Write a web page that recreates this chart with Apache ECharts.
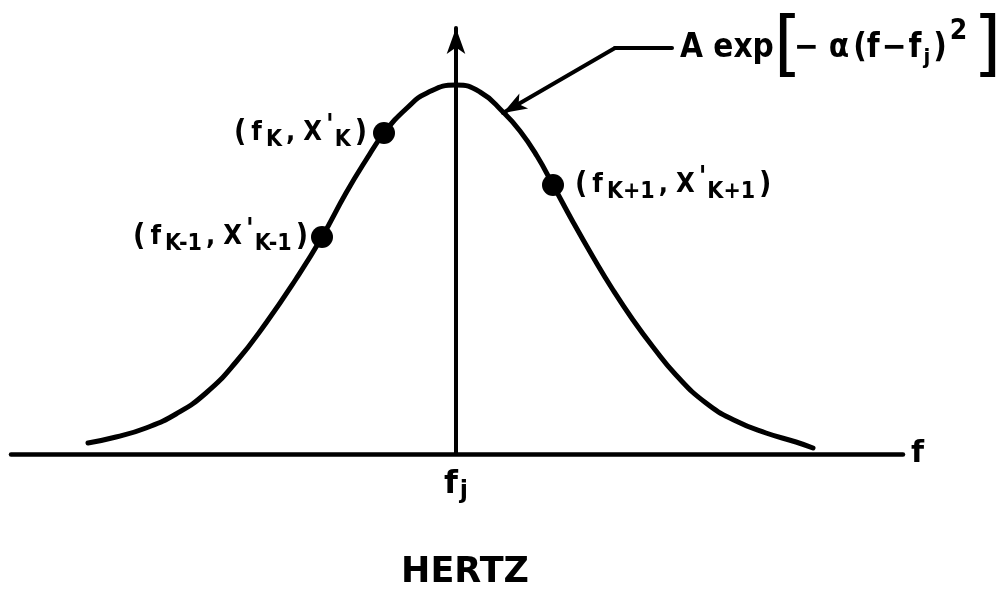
<!DOCTYPE html>
<html>
<head>
<meta charset="utf-8">
<script src="https://cdn.jsdelivr.net/npm/echarts@6/dist/echarts.min.js"></script>
<style>
  html, body { margin: 0; padding: 0; background: #fff; }
  #chart { width: 1002px; height: 589px; }
</style>
</head>
<body>
<div id="chart"></div>
<script>
// Frequency offset from f_j (horizontal) and amplitude (vertical) along the hand-drawn Gaussian
const curveF = [-368, -340, -310, -280, -250, -220, -190, -160, -134, -110, -90, -72, -49, -29, 0,
                24, 47, 64, 81, 97, 117, 137, 157, 177, 197, 220, 250, 280, 310, 340, 357];
const curveX = [11, 17, 26, 40, 61, 92, 131, 175, 217, 261, 294, 321, 346, 361, 369,
                362, 342, 323, 298, 269, 232, 197, 164, 134, 107, 79, 51, 33, 21, 12, 6];

// Sampled spectral lines (f_{K-1}, X'_{K-1}), (f_K, X'_K), (f_{K+1}, X'_{K+1})
const sampleF = [-134, -72, 97];
const sampleX = [217, 321, 269];
const sampleSub = ['K-1', 'K', 'K+1'];
const sampleSide = ['left', 'left', 'right'];

// Leader from the curve to the model formula: arrow tip, knee, end
const leaderF = [47, 159, 216];
const leaderX = [341, 406, 406];

const FONT = '"DejaVu Sans", sans-serif';
const FONT_C = '"DejaVu Sans Condensed", "DejaVu Sans", sans-serif';

const chart = echarts.init(document.getElementById('chart'), null, { renderer: 'canvas' });

const curveData = curveF.map((f, i) => [f, curveX[i]]);
const sampleData = sampleF.map((f, i) => ({
  value: [f, sampleX[i]],
  label: {
    position: sampleSide[i],
    distance: sampleSide[i] === 'left' ? (i === 0 ? 1 : 4) : 9
  }
}));

const ink = { color: '#000', fontWeight: 'bold' };
const labelRich = {
  p: Object.assign({ fontFamily: FONT_C, fontSize: 30, padding: [0, 2, 0, 2] }, ink),
  m: Object.assign({ fontFamily: FONT_C, fontSize: 27, padding: [0, 3, 0, 3] }, ink),
  c: Object.assign({ fontFamily: FONT_C, fontSize: 27, padding: [0, 5, 0, 2] }, ink),
  s: Object.assign({ fontFamily: FONT_C, fontSize: 23, padding: [15, 2, 0, 1] }, ink),
  q: Object.assign({ fontFamily: FONT_C, fontSize: 28, padding: [0, 0, 13, 1] }, ink)
};

const formulaRich = {
  t: Object.assign({ fontFamily: FONT_C, fontSize: 33 }, ink),
  g: Object.assign({ fontFamily: FONT_C, fontSize: 33, padding: [0, 4, 0, 10] }, ink),
  h: Object.assign({ fontFamily: FONT_C, fontSize: 33, padding: [0, 2, 0, 2] }, ink),
  b: { fontFamily: FONT, fontSize: 72, color: '#000', fontWeight: 'normal', padding: [0, -8, 0, 0] },
  e: { fontFamily: FONT, fontSize: 72, color: '#000', fontWeight: 'normal', padding: [0, 0, 0, 6] },
  s: Object.assign({ fontFamily: FONT_C, fontSize: 22, padding: [20, 3, 0, 2] }, ink),
  u: Object.assign({ fontFamily: FONT_C, fontSize: 28, padding: [0, 0, 32, 3] }, ink)
};

const option = {
  backgroundColor: '#ffffff',
  animation: false,
  grid: { left: 11, right: 99, top: 28, bottom: 135, outerBoundsMode: 'none', containLabel: false },
  xAxis: [
    {
      type: 'value',
      min: -445,
      max: 447,
      name: 'f',
      nameLocation: 'end',
      nameGap: 8,
      nameTextStyle: { fontFamily: FONT, fontSize: 30, fontWeight: 'bold', color: '#000', verticalAlign: 'middle' },
      axisLine: { show: true, onZero: false, lineStyle: { color: '#000', width: 4.5 } },
      axisTick: { show: false },
      splitLine: { show: false },
      axisLabel: {
        show: true,
        customValues: [0],
        margin: 12,
        formatter: () => '{f|f}{j|j}',
        rich: {
          f: { fontFamily: FONT, fontSize: 32, fontWeight: 'bold', color: '#000' },
          j: { fontFamily: FONT, fontSize: 24, fontWeight: 'bold', color: '#000', padding: [14, 0, 0, 2] }
        }
      }
    },
    {
      type: 'value',
      min: -445,
      max: 447,
      position: 'bottom',
      name: 'HERTZ',
      nameLocation: 'middle',
      nameGap: 101,
      nameTextStyle: { fontFamily: FONT, fontSize: 35, fontWeight: 'bold', color: '#000', padding: [0, 0, 0, 16] },
      axisLine: { show: false },
      axisTick: { show: false },
      axisLabel: { show: false },
      splitLine: { show: false }
    }
  ],
  yAxis: {
    type: 'value',
    min: 0,
    max: 426,
    axisLine: {
      show: true,
      onZero: true,
      onZeroAxisIndex: 0,
      symbol: ['none', 'arrow'],
      symbolSize: [14, 26],
      lineStyle: { color: '#000', width: 4 }
    },
    axisTick: { show: false },
    axisLabel: { show: false },
    splitLine: { show: false }
  },
  series: [
    {
      type: 'line',
      name: 'curve',
      data: curveData,
      smooth: 0.5,
      showSymbol: false,
      symbol: 'none',
      silent: true,
      lineStyle: { color: '#000', width: 5, cap: 'round', join: 'round' },
      markLine: {
        silent: true,
        animation: false,
        symbolSize: [13, 24],
        lineStyle: { color: '#000', width: 4, type: 'solid', cap: 'round' },
        emphasis: { disabled: true },
        data: [
          [
            { coord: [leaderF[0], leaderX[0]], symbol: 'arrow', label: { show: false } },
            { coord: [leaderF[1], leaderX[1]], symbol: 'none', label: { show: false } }
          ],
          [
            { coord: [leaderF[1], leaderX[1]], symbol: 'none' },
            { coord: [leaderF[2], leaderX[2]], symbol: 'none' }
          ]
        ],
        label: {
          show: true,
          position: 'end',
          distance: 8,
          formatter: (p) => p.dataIndex === 1
            ? '{t|A exp}{b|[}{t|−}{g|α}{t|(f}{h|−}{t|f}{s|j}{t|)}{u|2}{e|]}'
            : '',
          rich: formulaRich
        }
      }
    },
    {
      type: 'scatter',
      name: 'samples',
      data: sampleData,
      symbol: 'circle',
      symbolSize: 22,
      silent: true,
      itemStyle: { color: '#000', opacity: 1 },
      label: {
        show: true,
        color: '#000',
        formatter: (p) => {
          const s = sampleSub[p.dataIndex];
          return '{p|(}{m|f}{s|' + s + '}{c|,}{m|X}{q|\'}{s|' + s + '}{p|)}';
        },
        rich: labelRich
      }
    }
  ]
};

chart.setOption(option);
</script>
</body>
</html>
